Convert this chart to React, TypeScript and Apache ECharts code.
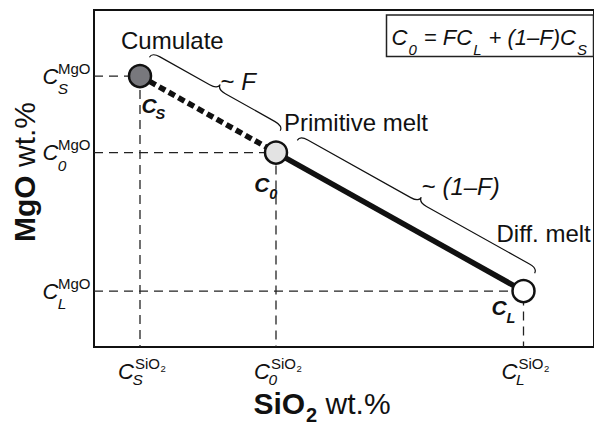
import React, { useEffect, useRef } from "react";
import * as echarts from "echarts";

// ---- data ----
const pointSubscripts = ["S", "0", "L"];
const sio2Values = [9.2, 36.4, 85.9];
const mgoValues = [80.4, 57.7, 16.6];
const pointCaptions = ["Cumulate", "Primitive melt", "Diff. melt"];
const fractionLabels = ["F", "(1–F)"];
const yTickSuperscript = "MgO";
const xTickSuperscript = ["SiO", "2"];
const xAxisTitle = ["SiO", "2", " wt.%"];
const yAxisTitle = ["MgO", " wt.%"];
const formulaText = "{m|C}{s|0}{m| = FC}{s|L}{m| + (1–F)C}{s|S}";
const X_MIN = 0;
const X_MAX = 100;
const Y_MIN = 0;
const Y_MAX = 100;

// ---- styles / layout ----
const FONT = "'Liberation Sans', Arial, Helvetica, sans-serif";
const INK = "#111";
const pointFills = ["#78787d", "#e3e3e3", "#ffffff"];
const captionOffsets = [
  [-19, -36],
  [8, -30],
  [-27, -58],
];
const pointLabelOffsets = [
  { c: [1.6, 29], s: [15.5, 37.5] },
  { c: [-21.7, 32.3], s: [-6.7, 41] },
  { c: [-32, 16.5], s: [-17, 26.5] },
];
const braceLayout = [
  { u0: -1, u1End: -7, label: [12.5, -32.6] },
  { u0: 12.6, u1End: 1, label: [22, -35] },
];

function txt(x: number, y: number, text: string, o: any = {}) {
  return {
    type: "text",
    x,
    y,
    silent: true,
    style: {
      text,
      fill: INK,
      fontFamily: FONT,
      fontSize: o.size || 14,
      fontStyle: o.italic ? "italic" : "normal",
      fontWeight: o.bold ? "bold" : "normal",
      align: o.align || "left",
      verticalAlign: o.va || "middle",
      textAlign: o.align || "left",
      textVerticalAlign: o.va || "middle",
      rich: o.rich,
    },
  };
}

function bracePath(p0: number[], p1: number[], u0: number, u1End: number, b: number, q: number, w: number) {
  const dx = p1[0] - p0[0];
  const dy = p1[1] - p0[1];
  const L = Math.hypot(dx, dy);
  const d = [dx / L, dy / L];
  const n = [d[1], -d[0]];
  const u1 = L + u1End;
  const um = (u0 + u1) / 2;
  const P = (u: number, v: number) =>
    (p0[0] + u * d[0] + v * n[0]).toFixed(2) + " " + (p0[1] + u * d[1] + v * n[1]).toFixed(2);
  return (
    "M" + P(u0, b) +
    " Q" + P(u0, b + q) + " " + P(u0 + w, b + q) +
    " L" + P(um - w, b + q) +
    " Q" + P(um, b + q) + " " + P(um, b + 2 * q) +
    " Q" + P(um, b + q) + " " + P(um + w, b + q) +
    " L" + P(u1 - w, b + q) +
    " Q" + P(u1, b + q) + " " + P(u1, b)
  );
}

export default function App() {
  const ref = useRef<HTMLDivElement>(null);

  useEffect(() => {
    if (!ref.current) return;
    const chart = echarts.init(ref.current, null, { renderer: "svg" });

    const points = sio2Values.map((x, i) => [x, mgoValues[i]]);
    const segments = [
      [sio2Values[0], mgoValues[0], sio2Values[1], mgoValues[1]],
      [sio2Values[1], mgoValues[1], sio2Values[2], mgoValues[2]],
    ];

    const guideSeries = sio2Values.map((x, i) => ({
      type: "line",
      data: [
        [X_MIN, mgoValues[i]],
        [x, mgoValues[i]],
        [x, Y_MIN],
      ],
      symbol: "none",
      silent: true,
      lineStyle: { color: "#222", width: 1.3, type: [9, 6] },
      z: 1,
    }));

    const option: any = {
      animation: false,
      backgroundColor: "#fff",
      grid: {
        show: true,
        left: 94,
        right: -2,
        top: 10,
        bottom: 79,
        borderColor: INK,
        borderWidth: 2,
        backgroundColor: "transparent",
      },
      xAxis: { type: "value", min: X_MIN, max: X_MAX, show: false },
      yAxis: { type: "value", min: Y_MIN, max: Y_MAX, show: false },
      graphic: [
        {
          type: "rect",
          shape: { x: 386.5, y: 15, width: 207, height: 41.5 },
          style: { fill: "#fff", stroke: "#222", lineWidth: 1.5 },
          silent: true,
        },
        {
          type: "text",
          x: 391.5,
          y: 26,
          silent: true,
          style: {
            text: formulaText,
            fill: INK,
            fontFamily: FONT,
            fontSize: 22,
            align: "left",
            verticalAlign: "top",
            rich: {
              m: { fontSize: 22, fontStyle: "italic", fontFamily: FONT, lineHeight: 23, verticalAlign: "top", fill: INK },
              s: { fontSize: 15, fontStyle: "italic", fontFamily: FONT, lineHeight: 15, padding: [16, 1, 0, 1], verticalAlign: "top", fill: INK },
            },
          },
        },
        {
          type: "text",
          x: 24,
          y: 172,
          rotation: Math.PI / 2,
          silent: true,
          style: {
            text: "{b|" + yAxisTitle[0] + "}{n|" + yAxisTitle[1] + "}",
            fill: INK,
            fontFamily: FONT,
            fontSize: 30,
            align: "center",
            verticalAlign: "middle",
            rich: {
              b: { fontSize: 30, fontWeight: "bold", fontFamily: FONT, fill: INK },
              n: { fontSize: 30, fontFamily: FONT, fill: INK },
            },
          },
        },
        {
          type: "text",
          x: 322,
          y: 388,
          silent: true,
          style: {
            text: "{b|" + xAxisTitle[0] + "}{s|" + xAxisTitle[1] + "}{n|" + xAxisTitle[2] + "}",
            fill: INK,
            fontFamily: FONT,
            fontSize: 30,
            align: "center",
            verticalAlign: "top",
            rich: {
              b: { fontSize: 30, fontWeight: "bold", fontFamily: FONT, lineHeight: 26, verticalAlign: "top", fill: INK },
              s: { fontSize: 20, fontWeight: "bold", fontFamily: FONT, lineHeight: 20, padding: [17, 0, 0, 1], verticalAlign: "top", fill: INK },
              n: { fontSize: 30, fontFamily: FONT, lineHeight: 26, verticalAlign: "top", fill: INK },
            },
          },
        },
      ],
      series: [
        ...guideSeries,
        {
          type: "line",
          data: [points[0], points[1]],
          symbol: "none",
          silent: true,
          lineStyle: { color: INK, width: 5.5, type: [7, 4], cap: "butt" },
          z: 2,
        },
        {
          type: "line",
          data: [points[1], points[2]],
          symbol: "none",
          silent: true,
          lineStyle: { color: INK, width: 5.5 },
          z: 2,
        },
        {
          type: "scatter",
          data: points.map((p, i) => ({ value: p, itemStyle: { color: pointFills[i] } })),
          symbol: "circle",
          symbolSize: 22,
          silent: true,
          itemStyle: { borderColor: INK, borderWidth: 2.5, opacity: 1 },
          z: 3,
        },
        {
          type: "custom",
          clip: false,
          silent: true,
          z: 4,
          data: points,
          encode: { x: 0, y: 1 },
          renderItem: (params: any, api: any) => {
            const i = params.dataIndex;
            const xv = api.value(0);
            const yv = api.value(1);
            const p = api.coord([xv, yv]);
            const yA = api.coord([X_MIN, yv]);
            const xA = api.coord([xv, Y_MIN]);
            const sub = pointSubscripts[i];
            const lo = pointLabelOffsets[i];
            const co = captionOffsets[i];
            return {
              type: "group",
              children: [
                txt(yA[0] - 51.5, yA[1], "C", { size: 22, italic: true }),
                txt(yA[0] - 36, yA[1] - 8, yTickSuperscript, { size: 15 }),
                txt(yA[0] - 36.3, yA[1] + 12.5, sub, { size: 15.5, italic: true }),
                txt(xA[0] - 22, xA[1] + 24, "C", { size: 22, italic: true }),
                txt(xA[0] - 5, xA[1] + 8.5, "{a|" + xTickSuperscript[0] + "}{b|" + xTickSuperscript[1] + "}", {
                  size: 15,
                  va: "top",
                  rich: {
                    a: { fontSize: 15, fontFamily: FONT, lineHeight: 15, verticalAlign: "top", fill: INK },
                    b: { fontSize: 9.5, fontFamily: FONT, lineHeight: 9, padding: [8, 0, 0, 0.5], verticalAlign: "top", fill: INK },
                  },
                }),
                txt(xA[0] - 7.6, xA[1] + 32.5, sub, { size: 15.5, italic: true }),
                txt(p[0] + lo.c[0], p[1] + lo.c[1], "C", { size: 21, italic: true, bold: true }),
                txt(p[0] + lo.s[0], p[1] + lo.s[1], sub, { size: 14.5, italic: true, bold: true }),
                txt(p[0] + co[0], p[1] + co[1], pointCaptions[i], { size: 24 }),
              ],
            };
          },
        },
        {
          type: "custom",
          clip: false,
          silent: true,
          z: 4,
          data: segments,
          encode: { x: [0, 2], y: [1, 3] },
          renderItem: (params: any, api: any) => {
            const i = params.dataIndex;
            const p0 = api.coord([api.value(0), api.value(1)]);
            const p1 = api.coord([api.value(2), api.value(3)]);
            const bl = braceLayout[i];
            const mid = [(p0[0] + p1[0]) / 2, (p0[1] + p1[1]) / 2];
            return {
              type: "group",
              children: [
                {
                  type: "path",
                  shape: { pathData: bracePath(p0, p1, bl.u0, bl.u1End, 21, 5.5, 9) },
                  style: { stroke: INK, fill: "none", lineWidth: 1.2 },
                },
                txt(mid[0] + bl.label[0], mid[1] + bl.label[1], "{r|~ }{i|" + fractionLabels[i] + "}", {
                  size: 24,
                  rich: {
                    r: { fontSize: 24, fontFamily: FONT, fill: INK },
                    i: { fontSize: 24, fontFamily: FONT, fontStyle: "italic", fill: INK },
                  },
                }),
              ],
            };
          },
        },
      ],
    };

    chart.setOption(option);
    return () => chart.dispose();
  }, []);

  return <div ref={ref} style={{ width: 594, height: 426, position: "absolute", left: 0, top: 0 }} />;
}
